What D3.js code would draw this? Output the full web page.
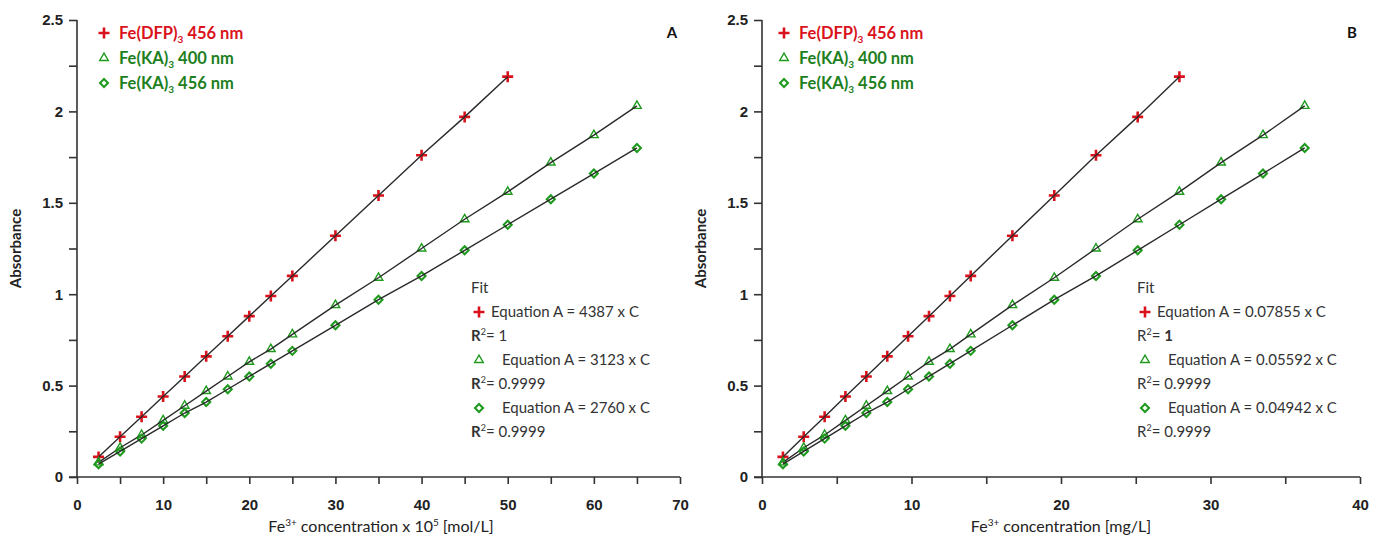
<!DOCTYPE html>
<html>
<head>
<meta charset="utf-8">
<script src="https://cdn.jsdelivr.net/npm/d3@7"></script>
<style>
  body { margin: 0; background: #fff; }
  svg { font-family: Lato, "Open Sans", sans-serif; }
</style>
</head>
<body>
<div id="chart"></div>
<script>
// data //

// absorbance values (same for both panels)
const dfpA = [0.11, 0.22, 0.33, 0.44, 0.55, 0.66, 0.77, 0.88, 0.99, 1.10, 1.32, 1.54, 1.76, 1.97, 2.19];
const ka400A = [0.08, 0.16, 0.23, 0.31, 0.39, 0.47, 0.55, 0.63, 0.70, 0.78, 0.94, 1.09, 1.25, 1.41, 1.56, 1.72, 1.87, 2.03];
const ka456A = [0.07, 0.14, 0.21, 0.28, 0.35, 0.41, 0.48, 0.55, 0.62, 0.69, 0.83, 0.97, 1.10, 1.24, 1.38, 1.52, 1.66, 1.80];

// concentrations, panel A (x 10^5 mol/L)
const concMol = [2.5, 5, 7.5, 10, 12.5, 15, 17.5, 20, 22.5, 25, 30, 35, 40, 45, 50, 55, 60, 65];
// concentrations, panel B (mg/L)
const concMg = [1.40, 2.79, 4.19, 5.58, 6.98, 8.38, 9.77, 11.17, 12.57, 13.96, 16.75, 19.55, 22.34, 25.13, 27.92, 30.71, 33.51, 36.30];

const yTicks = [0, 0.5, 1, 1.5, 2, 2.5];
const yMinor = d3.range(0, 2.5001, 0.25);

const legendLabels = [
  { main: "Fe(DFP)", sub: "3", rest: " 456 nm", sym: "cross" },
  { main: "Fe(KA)", sub: "3", rest: " 400 nm", sym: "tri" },
  { main: "Fe(KA)", sub: "3", rest: " 456 nm", sym: "dia" }
];
const eqA = ["4387", "3123", "2760"];
const eqB = ["0.07855", "0.05592", "0.04942"];
const r2 = ["1", "0.9999", "0.9999"];

const red = "#d9121c";
const green = "#1d7f1d";
const markGreen = "#1f9a1f";
const axisCol = "#333";

const W = 1373, H = 536;
const svg = d3.select("#chart").append("svg")
  .attr("width", W)
  .attr("height", H);

function drawMarker(g, sym) {
  if (sym === "cross") {
    g.append("path")
      .attr("d", "M-5.5,0H5.5M0,-5.5V5.5")
      .attr("stroke", red)
      .attr("stroke-width", 2.6)
      .attr("fill", "none");
  } else if (sym === "tri") {
    g.append("path")
      .attr("d", d3.symbol(d3.symbolTriangle, 32)())
      .attr("stroke", markGreen)
      .attr("stroke-width", 1.4)
      .attr("fill", "none");
  } else {
    g.append("path")
      .attr("d", d3.symbol(d3.symbolSquare, 32)())
      .attr("transform", "rotate(45)")
      .attr("stroke", markGreen)
      .attr("stroke-width", 2.1)
      .attr("fill", "none");
  }
}

function panel(cfg) {
  const x = d3.scaleLinear().domain([0, cfg.xMax]).range([cfg.left, cfg.right]);
  const y = d3.scaleLinear().domain([0, 2.5]).range([477, 20]);
  const g = svg.append("g");

  // axes
  g.append("g")
    .attr("transform", `translate(0,${y(0)})`)
    .call(d3.axisBottom(x).tickValues(d3.range(0, cfg.xMax + 0.001, 5)).tickSize(7).tickFormat(""))
    .call(a => a.select(".domain").remove())
    .selectAll("line").attr("stroke", axisCol).attr("stroke-width", 1.6);

  g.append("g")
    .attr("transform", `translate(0,${y(0)})`)
    .call(d3.axisBottom(x).tickValues(cfg.xTicks).tickSize(0).tickPadding(22))
    .call(a => a.select(".domain").remove())
    .selectAll("text")
    .style("font-size", "15px").style("font-weight", "bold").attr("fill", "#222");

  g.append("g")
    .attr("transform", `translate(${x(0)},0)`)
    .call(d3.axisLeft(y).tickValues(yMinor).tickSize(8).tickFormat(""))
    .call(a => a.select(".domain").remove())
    .selectAll("line").attr("stroke", axisCol).attr("stroke-width", 1.6);

  g.append("g")
    .attr("transform", `translate(${x(0)},0)`)
    .call(d3.axisLeft(y).tickValues(yTicks).tickSize(0).tickPadding(14).tickFormat(d3.format("")))
    .call(a => a.select(".domain").remove())
    .selectAll("text")
    .style("font-size", "15px").style("font-weight", "bold").attr("fill", "#222");

  g.append("line")
    .attr("x1", x(0) - 8).attr("x2", x(cfg.xMax))
    .attr("y1", y(0)).attr("y2", y(0))
    .attr("stroke", axisCol).attr("stroke-width", 1.6);
  g.append("line")
    .attr("x1", x(0)).attr("x2", x(0))
    .attr("y1", y(0)).attr("y2", y(2.5))
    .attr("stroke", axisCol).attr("stroke-width", 1.6);

  // series
  const series = [
    { xs: cfg.conc.slice(0, dfpA.length), ys: dfpA, sym: "cross" },
    { xs: cfg.conc, ys: ka400A, sym: "tri" },
    { xs: cfg.conc, ys: ka456A, sym: "dia" }
  ];
  const line = d3.line().x(d => x(d[0])).y(d => y(d[1]));

  series.forEach(s => {
    const pts = s.xs.map((v, i) => [v, s.ys[i]]);
    pts.forEach(p => {
      const m = g.append("g").attr("transform", `translate(${x(p[0])},${y(p[1])})`);
      drawMarker(m, s.sym);
    });
    g.append("path")
      .datum(pts)
      .attr("fill", "none")
      .attr("stroke", "#2a2a2a")
      .attr("stroke-width", 1.4)
      .attr("d", line);
  });

  // legend
  legendLabels.forEach((l, i) => {
    const ly = 33 + i * 25;
    const m = g.append("g").attr("transform", `translate(${cfg.legX},${ly})`);
    drawMarker(m, l.sym);
    const t = g.append("text")
      .attr("x", cfg.legX + 15).attr("y", ly + 6)
      .style("font-size", "16.5px").style("font-weight", "bold")
      .attr("fill", i === 0 ? red : green);
    t.append("tspan").text(l.main);
    t.append("tspan").attr("dy", 4).style("font-size", "10px").text(l.sub);
    t.append("tspan").attr("dy", -4).text(l.rest);
  });

  // panel letter
  g.append("text")
    .attr("x", cfg.right - 8).attr("y", 38)
    .attr("text-anchor", "middle")
    .style("font-size", "15px").style("font-weight", "bold")
    .attr("fill", "#111")
    .text(cfg.letter);

  // fit box
  const fx = cfg.fitX;
  const fitText = (yy, xx) => g.append("text").attr("x", xx).attr("y", yy)
    .style("font-size", "15px").attr("fill", "#333");
  fitText(293, fx).text("Fit");
  const syms = ["cross", "tri", "dia"];
  syms.forEach((s, i) => {
    const ey = 312 + i * 48;
    const m = g.append("g").attr("transform", `translate(${fx + 8},${ey})`);
    drawMarker(m, s);
    fitText(ey + 5, fx + (i === 0 ? 20 : 31)).text(`Equation A = ${cfg.eq[i]} x C`);
    const rt = fitText(ey + 29, fx);
    if (cfg.letter === "A") {
      rt.append("tspan").style("font-weight", "bold").text("R");
    } else {
      rt.append("tspan").text("R");
    }
    rt.append("tspan").attr("dy", -6).style("font-size", "9px").text("2");
    if (cfg.letter === "B" && i === 0) {
      rt.append("tspan").attr("dy", 6).text("= ");
      rt.append("tspan").style("font-weight", "bold").text(r2[i]);
    } else {
      rt.append("tspan").attr("dy", 6).text("= " + r2[i]);
    }
  });

  // axis titles
  g.append("text")
    .attr("transform", `translate(${x(0) - 56},${y(1.25)}) rotate(-90)`)
    .attr("text-anchor", "middle")
    .style("font-size", "15px").style("font-weight", "bold")
    .attr("fill", "#222")
    .text("Absorbance");

  const xt = g.append("text")
    .attr("x", cfg.titleX).attr("y", 532)
    .attr("text-anchor", "middle")
    .style("font-size", "16px")
    .attr("fill", "#222");
  xt.append("tspan").text("Fe");
  xt.append("tspan").attr("dy", -6).style("font-size", "10px").text("3+");
  xt.append("tspan").attr("dy", 6).text(cfg.title);
  if (cfg.sup) {
    xt.append("tspan").attr("dy", -6).style("font-size", "10px").text(cfg.sup);
    xt.append("tspan").attr("dy", 6).text(cfg.title2);
  }
}

panel({
  letter: "A", xMax: 70, left: 77, right: 680, conc: concMol,
  xTicks: [0, 10, 20, 30, 40, 50, 60, 70],
  legX: 104, fitX: 471, eq: eqA, titleX: 381,
  title: " concentration x 10", sup: "5", title2: " [mol/L]"
});

panel({
  letter: "B", xMax: 40, left: 762, right: 1360, conc: concMg,
  xTicks: [0, 10, 20, 30, 40],
  legX: 784, fitX: 1137, eq: eqB, titleX: 1061,
  title: " concentration [mg/L]"
});
</script>
</body>
</html>
